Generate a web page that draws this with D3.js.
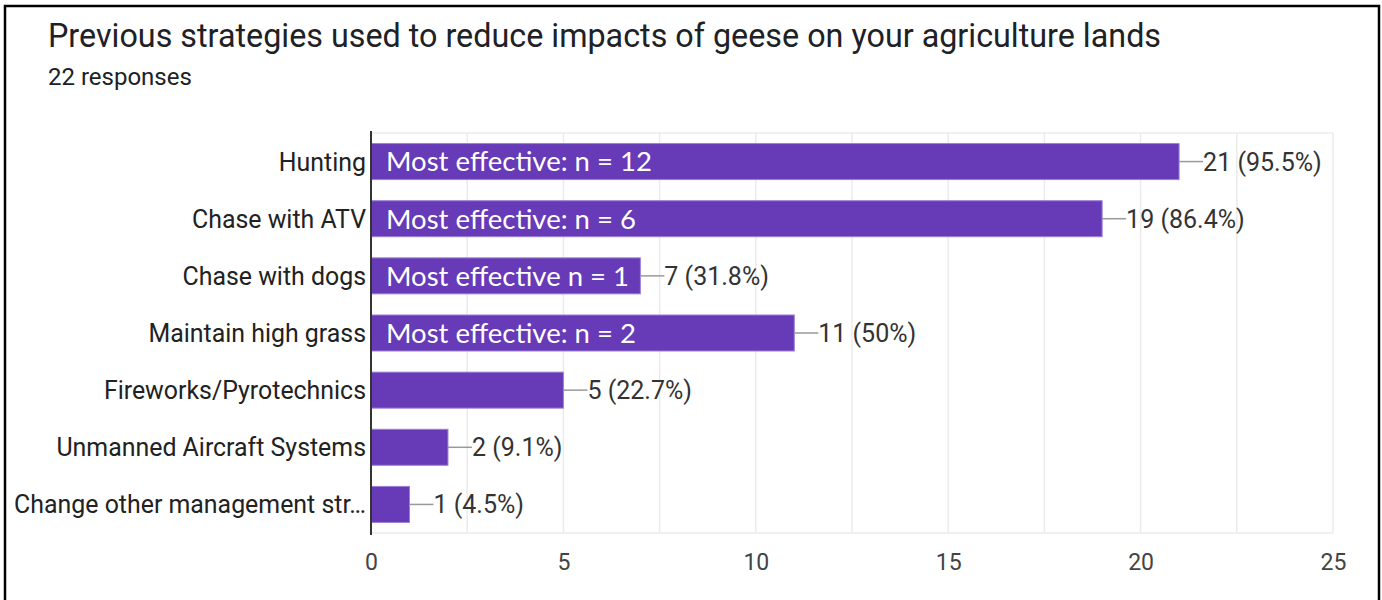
<!DOCTYPE html>
<html>
<head>
<meta charset="utf-8">
<script src="https://cdn.jsdelivr.net/npm/d3@7"></script>
<style>
  html, body { margin: 0; padding: 0; background: #fff; }
  svg { display: block; }
</style>
</head>
<body>
<svg id="chart" width="1382" height="600"></svg>
<script>
// Survey question and answer data
const title = "Previous strategies used to reduce impacts of geese on your agriculture lands";
const totalResponses = 22;
const categories = [
  "Hunting",
  "Chase with ATV",
  "Chase with dogs",
  "Maintain high grass",
  "Fireworks/Pyrotechnics",
  "Unmanned Aircraft Systems",
  "Change other management str\u2026"
];
const counts = [21, 19, 7, 11, 5, 2, 1];
const effectiveNotes = [
  "Most effective: n = 12",
  "Most effective: n = 6",
  "Most effective n = 1",
  "Most effective: n = 2",
  "", "", ""
];
const xTicks = [0, 5, 10, 15, 20, 25];
const xGrid = [2.5, 5, 7.5, 10, 12.5, 15, 17.5, 20, 22.5, 25];

const svg = d3.select("#chart");

// Card frame
svg.append("path")
  .attr("d", "M5,600 L5,6 L1379,6 L1379,600")
  .attr("fill", "none")
  .attr("stroke", "#000")
  .attr("stroke-width", 2.5);

// Heading
svg.append("text")
  .attr("x", 48).attr("y", 47)
  .attr("font-family", "Roboto, sans-serif")
  .attr("font-size", 32.3)
  .attr("fill", "#202124")
  .text(title);
svg.append("text")
  .attr("x", 48).attr("y", 85)
  .attr("font-family", "Roboto, sans-serif")
  .attr("font-size", 24)
  .attr("fill", "#202124")
  .text(totalResponses + " responses");

// Scales
const x = d3.scaleLinear().domain([0, 25]).range([371, 1333]);
const y = d3.scaleBand().domain(categories).range([133, 533])
  .paddingInner(0.37).paddingOuter(0.185);

const fmtPct = v => {
  const p = Math.round(v / totalResponses * 1000) / 10;
  return (Number.isInteger(p) ? p : p.toFixed(1)) + "%";
};

// Grid
const grid = svg.append("g");
grid.selectAll("line.v").data(xGrid).join("line")
  .attr("x1", d => x(d)).attr("x2", d => x(d))
  .attr("y1", 133).attr("y2", 533)
  .attr("stroke", "#ebebeb").attr("stroke-width", 1.5);
grid.append("line")
  .attr("x1", 371).attr("x2", x(25)).attr("y1", 133).attr("y2", 133)
  .attr("stroke", "#ebebeb").attr("stroke-width", 1.5);
grid.append("line")
  .attr("x1", 371).attr("x2", x(25)).attr("y1", 533).attr("y2", 533)
  .attr("stroke", "#ebebeb").attr("stroke-width", 1.5);

// Bars
svg.append("g").selectAll("rect").data(categories).join("rect")
  .attr("x", x(0))
  .attr("y", d => y(d))
  .attr("width", (d, i) => x(counts[i]) - x(0))
  .attr("height", y.bandwidth())
  .attr("fill", "#673ab7")
  .attr("stroke", "#9c7fd6")
  .attr("stroke-width", 1);

// Leader lines and value labels
const vals = svg.append("g");
vals.selectAll("line").data(categories).join("line")
  .attr("x1", (d, i) => x(counts[i]))
  .attr("x2", (d, i) => x(counts[i]) + 24)
  .attr("y1", d => y(d) + y.bandwidth() / 2)
  .attr("y2", d => y(d) + y.bandwidth() / 2)
  .attr("stroke", "#999").attr("stroke-width", 1.5);
vals.selectAll("text").data(categories).join("text")
  .attr("x", (d, i) => x(counts[i]) + 24)
  .attr("y", d => y(d) + y.bandwidth() / 2)
  .attr("dy", "0.36em")
  .attr("font-family", "Roboto, sans-serif")
  .attr("font-size", 25)
  .attr("fill", "#333")
  .text((d, i) => counts[i] + " (" + fmtPct(counts[i]) + ")");

// Notes inside bars
svg.append("g").selectAll("text").data(categories).join("text")
  .attr("x", x(0) + 15)
  .attr("y", d => y(d) + y.bandwidth() / 2)
  .attr("dy", "0.36em")
  .attr("font-family", "Lato, 'Open Sans', sans-serif")
  .attr("font-size", 27.5)
  .attr("fill", "#fff")
  .text((d, i) => effectiveNotes[i]);

// Category axis
const yAxis = svg.append("g")
  .attr("transform", `translate(${x(0)},0)`)
  .call(d3.axisLeft(y).tickSize(0).tickPadding(5));
yAxis.select(".domain").remove();
yAxis.selectAll("text")
  .attr("dy", "0.36em")
  .attr("font-family", "Roboto, sans-serif")
  .attr("font-size", 24.9)
  .attr("fill", "#222");
svg.append("line")
  .attr("x1", x(0)).attr("x2", x(0)).attr("y1", 131).attr("y2", 535)
  .attr("stroke", "#333").attr("stroke-width", 2);

// Value axis labels
const xAxis = svg.append("g")
  .attr("transform", "translate(0,533)")
  .call(d3.axisBottom(x).tickValues(xTicks).tickSize(0).tickPadding(21));
xAxis.select(".domain").remove();
xAxis.selectAll("text")
  .attr("font-family", "Roboto, sans-serif")
  .attr("font-size", 23)
  .attr("fill", "#444");
</script>
</body>
</html>
